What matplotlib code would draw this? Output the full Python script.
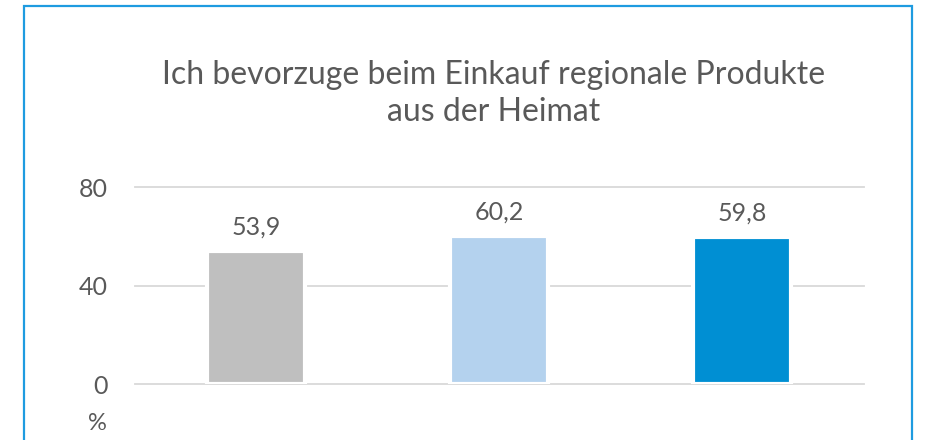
import matplotlib
matplotlib.use("Agg")
import matplotlib.pyplot as plt
from matplotlib.patches import Rectangle

categories = ["A", "B", "C"]
values = [53.9, 60.2, 59.8]
labels = ["53,9", "60,2", "59,8"]
colors = ["#BFBFBF", "#B4D2EE", "#008FD3"]
yticks = [0, 40, 80]
title = "Ich bevorzuge beim Einkauf regionale Produkte\naus der Heimat"

plt.rcParams['font.family'] = ['Lato', 'DejaVu Sans']
txt = "#595959"

fig = plt.figure(figsize=(9.25, 4.4), dpi=100)
fig.patch.set_facecolor("white")

# outer chart border
fig.add_artist(Rectangle((24/925, -0.1), (912-24)/925, 1.1 - 6/440,
                         transform=fig.transFigure, fill=False,
                         edgecolor="#1E9BE0", linewidth=1.6))

ax = fig.add_axes([134.5/925, 56/440, 729/925, 197/440])
x = range(len(categories))
ax.bar(x, values, width=0.40, color=colors, edgecolor="white", linewidth=3, zorder=3)
ax.set_xlim(-0.5, 2.5)
ax.set_ylim(0, 80)
ax.set_yticks(yticks)
ax.set_yticklabels([str(t) for t in yticks])
ax.set_xticks([])
ax.grid(axis="y", color="#D9D9D9", linewidth=1.3, zorder=0)
ax.set_axisbelow(True)
for s in ax.spines.values():
    s.set_visible(False)
for gl in ax.get_ygridlines():
    gl.set_clip_on(False)
ax.tick_params(axis="y", length=0, pad=19, labelsize=18, labelcolor=txt)

for xi, v, lab in zip(x, values, labels):
    ax.annotate(lab, (xi, v), xytext=(0, 9), textcoords="offset points",
                ha="center", va="bottom", fontsize=18, color=txt)

fig.text(97/925, 1 - 423/440, "%", ha="center", va="center", fontsize=17, color=txt)
fig.text(494/925, 1 - 93.5/440, title, ha="center", va="center", fontsize=23,
         color=txt, linespacing=1.3)

fig.savefig("out.png", dpi=100)
